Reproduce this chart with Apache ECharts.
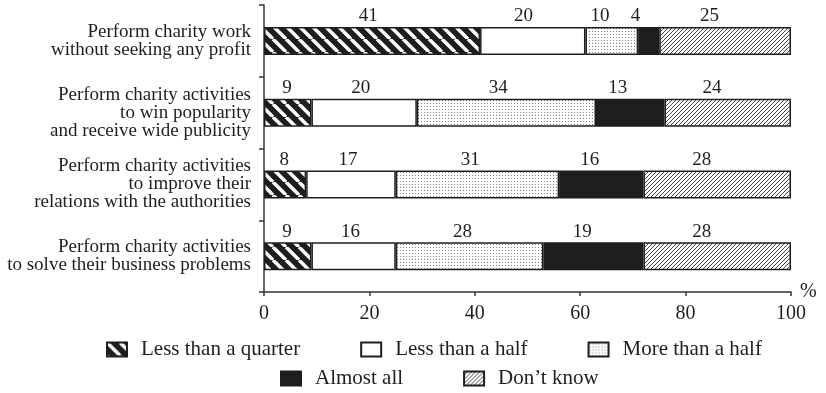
<!DOCTYPE html>
<html>
<head>
<meta charset="utf-8">
<script src="https://cdn.jsdelivr.net/npm/echarts@6/dist/echarts.min.js"></script>
<style>
html,body{margin:0;padding:0;background:#fff;}
#chart{width:826px;height:393px;}
</style>
</head>
<body>
<div id="chart"></div>
<script>
const categories = [
  'Perform charity work\nwithout seeking any profit',
  'Perform charity activities\nto win popularity\nand receive wide publicity',
  'Perform charity activities\nto improve their\nrelations with the authorities',
  'Perform charity activities\nto solve their business problems'
];
const seriesNames = ['Less than a quarter', 'Less than a half', 'More than a half', 'Almost all', 'Don\u2019t know'];
const lessQuarter = [41, 9, 8, 9];
const lessHalf = [20, 20, 17, 16];
const moreHalf = [10, 34, 31, 28];
const almostAll = [4, 13, 16, 19];
const dontKnow = [25, 24, 28, 28];
const xTicks = [0, 20, 40, 60, 80, 100];

const FONT = '"Liberation Serif", "Times New Roman", serif';
const INK = '#1e1e1e';

function tile(w, h, draw) {
  const c = document.createElement('canvas');
  c.width = w; c.height = h;
  draw(c.getContext('2d'), w, h);
  return c;
}
const stripeTile = tile(13, 13, (g, w, h) => {
  g.fillStyle = INK; g.fillRect(0, 0, w, h);
  g.strokeStyle = '#fff'; g.lineWidth = 3.5;
  for (const k of [-w, 0, w]) { g.beginPath(); g.moveTo(k, 0); g.lineTo(k + w, h); g.stroke(); }
});
const hatchTile = tile(4, 4, (g, w, h) => {
  g.fillStyle = '#fff'; g.fillRect(0, 0, w, h);
  g.strokeStyle = '#333'; g.lineWidth = 0.9;
  for (const k of [-w, 0, w]) { g.beginPath(); g.moveTo(k, h); g.lineTo(k + w, 0); g.stroke(); }
});
const dotTile = tile(3, 3, (g, w, h) => {
  g.fillStyle = '#fff'; g.fillRect(0, 0, w, h);
  g.fillStyle = '#808080'; g.fillRect(1, 1, 1, 1);
});

const fills = [
  { image: stripeTile, repeat: 'repeat' },
  '#ffffff',
  { image: dotTile, repeat: 'repeat' },
  INK,
  { image: hatchTile, repeat: 'repeat' }
];
const valueSets = [lessQuarter, lessHalf, moreHalf, almostAll, dontKnow];

const series = valueSets.map((vals, si) => ({
  name: seriesNames[si],
  type: 'bar',
  stack: 'total',
  barWidth: 28,
  itemStyle: { color: fills[si], borderColor: INK, borderWidth: 1.5 },
  label: { show: true, position: 'top', distance: 1, fontFamily: FONT, fontSize: 19, color: INK },
  data: vals.map((v, ci) => {
    let before = 0;
    for (let j = 0; j < si; j++) before += valueSets[j][ci];
    const mid = before + v / 2;
    return { value: v, label: { offset: [-0.18 * mid, 0] } };
  })
}));

const legendText = { fontFamily: FONT, fontSize: 21, color: INK, padding: [0, 0, 0, 9] };
const option = {
  animation: false,
  backgroundColor: '#fff',
  grid: { left: 264, right: 35, top: 5, bottom: 101 },
  xAxis: {
    type: 'value', min: xTicks[0], max: xTicks[xTicks.length - 1], interval: xTicks[1] - xTicks[0],
    name: '%', nameLocation: 'end', nameGap: 9,
    nameTextStyle: { fontFamily: FONT, fontSize: 20, color: INK, padding: [0, 0, 8, 0] },
    axisLine: { show: true, lineStyle: { color: '#333', width: 1.5 } },
    axisTick: { show: true, length: 4, lineStyle: { color: '#333', width: 1.5 } },
    axisLabel: { fontFamily: FONT, fontSize: 20, color: INK, margin: 12 },
    splitLine: { show: false }
  },
  yAxis: {
    type: 'category', data: categories, inverse: true,
    axisLine: { show: true, lineStyle: { color: '#333', width: 1.5 } },
    axisTick: { show: true, length: 5, lineStyle: { color: '#333', width: 1.5 } },
    axisLabel: { fontFamily: FONT, fontSize: 19, lineHeight: 18, color: INK, margin: 13, align: 'right' }
  },
  legend: [
    { data: seriesNames.slice(0, 3), left: 101, top: 334, icon: 'rect', itemWidth: 20, itemHeight: 14, itemGap: 60, textStyle: legendText },
    { data: seriesNames.slice(3), left: 275, top: 363, icon: 'rect', itemWidth: 20, itemHeight: 14, itemGap: 60, textStyle: legendText }
  ],
  series: series
};
const chart = echarts.init(document.getElementById('chart'), null, { renderer: 'canvas' });
chart.setOption(option);
</script>
</body>
</html>
